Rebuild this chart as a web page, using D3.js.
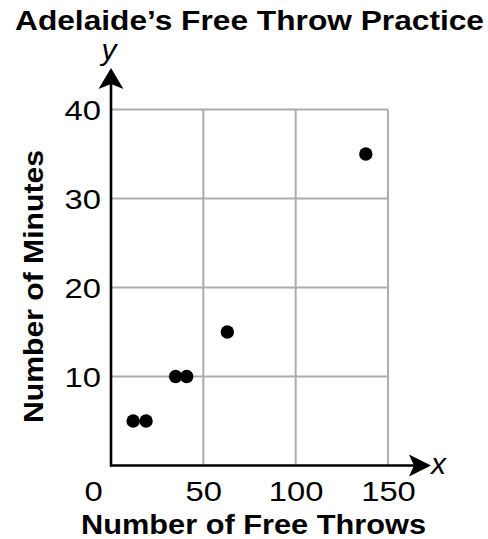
<!DOCTYPE html>
<html>
<head>
<meta charset="utf-8">
<script src="https://cdn.jsdelivr.net/npm/d3@7"></script>
<style>
  html, body { margin: 0; padding: 0; background: #fff; }
  svg { display: block; }
  text { font-family: "Liberation Sans", Arial, Helvetica, sans-serif; fill: #000; }
</style>
</head>
<body>
<script>
// Practice sessions: free throws taken and minutes spent
const freeThrows = [12, 19, 35, 41, 63, 138];
const minutes = [5, 5, 10, 10, 15, 35];

const xTicks = [0, 50, 100, 150];
const yTicks = [10, 20, 30, 40];

const chartTitle = "Adelaide\u2019s Free Throw Practice";
const xTitle = "Number of Free Throws";
const yTitle = "Number of Minutes";

const W = 488, H = 539;
const stretch = 1.17; // wide letterforms

const svg = d3.select("body").append("svg")
  .attr("width", W).attr("height", H);

const x = d3.scaleLinear().domain([0, 150]).range([111, 388]);
const y = d3.scaleLinear().domain([0, 40]).range([465.5, 109.5]);

const gridColor = "#acacb0";

// Grid
const grid = svg.append("g");
grid.selectAll("line.v").data(xTicks.filter(d => d > 0)).join("line")
  .attr("x1", d => x(d)).attr("x2", d => x(d))
  .attr("y1", y(0)).attr("y2", y(40))
  .attr("stroke", gridColor).attr("stroke-width", 2);
grid.selectAll("line.h").data(yTicks).join("line")
  .attr("x1", x(0)).attr("x2", x(150))
  .attr("y1", d => y(d)).attr("y2", d => y(d))
  .attr("stroke", gridColor).attr("stroke-width", 2);

// Axes with tick labels
const yAxis = svg.append("g")
  .attr("transform", `translate(${x(0)},0)`)
  .call(d3.axisLeft(y).tickValues(yTicks).tickSize(0).tickPadding(0));
yAxis.select(".domain").remove();
yAxis.selectAll("text")
  .attr("font-size", 28)
  .attr("font-family", "'Liberation Sans', Arial, sans-serif")
  .attr("fill", "#000")
  .attr("text-anchor", "end")
  .attr("x", -10 / stretch)
  .attr("dy", "0.358em")
  .attr("transform", `scale(${stretch},1)`);

const xAxis = svg.append("g")
  .attr("transform", `translate(0,${y(0)})`)
  .call(d3.axisBottom(x).tickValues(xTicks).tickSize(0).tickPadding(0));
xAxis.select(".domain").remove();
xAxis.selectAll("text")
  .attr("font-size", 28)
  .attr("font-family", "'Liberation Sans', Arial, sans-serif")
  .attr("fill", "#000")
  .attr("text-anchor", "middle")
  .attr("y", 35.5)
  .attr("dy", 0)
  .attr("x", d => (d === 0 ? -18 : 0) / stretch)
  .attr("transform", `scale(${stretch},1)`);

// Axis lines with arrowheads
const axisG = svg.append("g");
axisG.append("line")
  .attr("x1", x(0)).attr("x2", x(0))
  .attr("y1", y(0) + 1).attr("y2", 80)
  .attr("stroke", "#000").attr("stroke-width", 2.6);
axisG.append("line")
  .attr("x1", x(0) - 1).attr("x2", 420)
  .attr("y1", y(0)).attr("y2", y(0))
  .attr("stroke", "#000").attr("stroke-width", 2.6);
axisG.append("path")
  .attr("d", `M${x(0)},68 L${x(0) + 12.5},89 L${x(0)},84 L${x(0) - 12.5},89 Z`)
  .attr("fill", "#000");
axisG.append("path")
  .attr("d", `M431,${y(0)} L409,${y(0) - 11} L414,${y(0)} L409,${y(0) + 11} Z`)
  .attr("fill", "#000");

svg.append("text")
  .attr("x", 109).attr("y", 60)
  .attr("text-anchor", "middle")
  .attr("font-size", 30).attr("font-style", "italic")
  .text("y");
svg.append("text")
  .attr("x", 431).attr("y", 474)
  .attr("font-size", 30).attr("font-style", "italic")
  .text("x");

// Data points
svg.append("g").selectAll("circle")
  .data(freeThrows.map((d, i) => ({ t: d, m: minutes[i] })))
  .join("circle")
  .attr("cx", d => x(d.t))
  .attr("cy", d => y(d.m))
  .attr("r", 6.7)
  .attr("fill", "#000");

// Titles
svg.append("text")
  .attr("x", 249.5).attr("y", 30)
  .attr("text-anchor", "middle")
  .attr("font-size", 27).attr("font-weight", "bold")
  .attr("textLength", 469).attr("lengthAdjust", "spacingAndGlyphs")
  .text(chartTitle);

svg.append("text")
  .attr("x", 253.5).attr("y", 534)
  .attr("text-anchor", "middle")
  .attr("font-size", 27.5).attr("font-weight", "bold")
  .attr("textLength", 345).attr("lengthAdjust", "spacingAndGlyphs")
  .text(xTitle);

svg.append("text")
  .attr("transform", "translate(43,286.5) rotate(-90)")
  .attr("text-anchor", "middle")
  .attr("font-size", 27.5).attr("font-weight", "bold")
  .attr("textLength", 273).attr("lengthAdjust", "spacingAndGlyphs")
  .text(yTitle);
</script>
</body>
</html>
